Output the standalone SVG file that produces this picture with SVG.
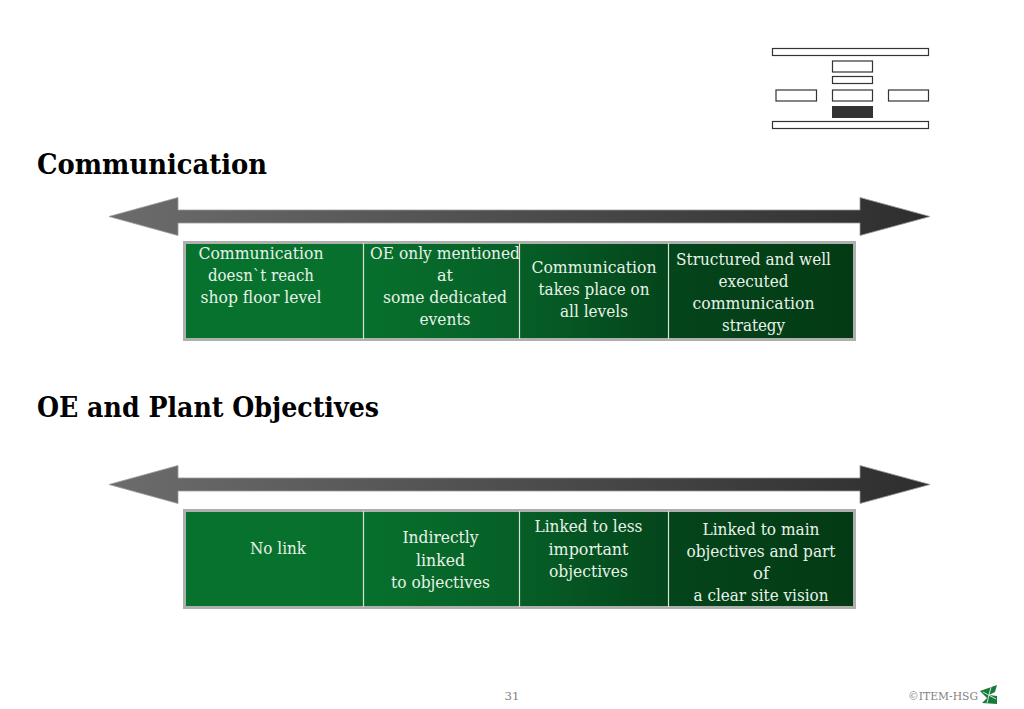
<svg xmlns="http://www.w3.org/2000/svg" width="1024" height="709" viewBox="0 0 1024 709">
<style>
text{font-family:"DejaVu Serif Condensed","Liberation Serif","Times New Roman",serif}
.h{font-size:27px;font-weight:bold;fill:#000}
.t{font-size:16.500px;fill:#e8f2e8;text-anchor:middle}
.o{fill:#fff;stroke:#333;stroke-width:1.200}
.bar{fill:url(#bg);stroke:#aeb0ae;stroke-width:3}
.div{stroke:#d5e2d5;stroke-width:1.200}
.f{font-size:11.500px;fill:#7f7f7f}
</style>
<defs>
<linearGradient id="bg" x1="0" y1="0" x2="1" y2="0">
<stop offset="0" stop-color="#07722e"/><stop offset="0.27" stop-color="#07702d"/><stop offset="0.5" stop-color="#065f27"/><stop offset="0.72" stop-color="#04451b"/><stop offset="1" stop-color="#033a14"/>
</linearGradient>
<linearGradient id="ar" x1="0" y1="0" x2="1" y2="0">
<stop offset="0" stop-color="#6c6c6c"/><stop offset="1" stop-color="#2e2e2e"/>
</linearGradient>
<path id="arrow" d="M109 216.500L178 197.500V210H860V197.500L930 216.500L860 235.500V223H178V235.500Z" fill="url(#ar)" stroke="#9a9a9a" stroke-width="0.800"/>
</defs>

<g id="org-chart">
<rect class="o" x="772.500" y="48.500" width="156" height="7"/>
<rect class="o" x="832.500" y="61" width="40" height="11"/>
<rect class="o" x="832.500" y="76.500" width="40" height="7"/>
<rect class="o" x="776" y="90" width="40.500" height="11"/>
<rect class="o" x="832.500" y="90" width="40" height="11"/>
<rect class="o" x="888.500" y="90" width="40" height="11"/>
<rect x="832" y="106" width="41" height="12" fill="#333"/>
<rect class="o" x="772.500" y="121.500" width="156" height="7"/>
</g>

<text class="h" x="37" y="174" textLength="230" lengthAdjust="spacingAndGlyphs">Communication</text>

<g id="connectors">
<use href="#arrow"/>
<use href="#arrow" y="268"/>
</g>

<g id="scale-communication">
<rect class="bar" x="184.500" y="242.500" width="670" height="97"/>
<path class="div" d="M363.500 243V339M519.500 243V339M668.500 243V339"/>
<text class="t" x="261" y="259" textLength="125" lengthAdjust="spacingAndGlyphs">Communication</text>
<text class="t" x="261" y="281" textLength="106" lengthAdjust="spacingAndGlyphs">doesn`t reach</text>
<text class="t" x="261" y="303" textLength="121" lengthAdjust="spacingAndGlyphs">shop floor level</text>
<text class="t" x="445" y="259" textLength="150" lengthAdjust="spacingAndGlyphs">OE only mentioned</text>
<text class="t" x="445" y="281" textLength="16" lengthAdjust="spacingAndGlyphs">at</text>
<text class="t" x="445" y="303" textLength="124" lengthAdjust="spacingAndGlyphs">some dedicated</text>
<text class="t" x="445" y="325" textLength="51" lengthAdjust="spacingAndGlyphs">events</text>
<text class="t" x="594" y="273" textLength="125" lengthAdjust="spacingAndGlyphs">Communication</text>
<text class="t" x="594" y="295" textLength="111" lengthAdjust="spacingAndGlyphs">takes place on</text>
<text class="t" x="594" y="317" textLength="68" lengthAdjust="spacingAndGlyphs">all levels</text>
<text class="t" x="753.500" y="265" textLength="155" lengthAdjust="spacingAndGlyphs">Structured and well</text>
<text class="t" x="753.500" y="287" textLength="70" lengthAdjust="spacingAndGlyphs">executed</text>
<text class="t" x="753.500" y="309" textLength="122" lengthAdjust="spacingAndGlyphs">communication</text>
<text class="t" x="753.500" y="331" textLength="63" lengthAdjust="spacingAndGlyphs">strategy</text>
</g>

<text class="h" x="37" y="417" textLength="342" lengthAdjust="spacingAndGlyphs">OE and Plant Objectives</text>

<g id="scale-objectives">
<rect class="bar" x="184.500" y="510.500" width="670" height="97"/>
<path class="div" d="M363.500 511V607M519.500 511V607M668.500 511V607"/>
<text class="t" x="278" y="554" textLength="56" lengthAdjust="spacingAndGlyphs">No link</text>
<text class="t" x="440.500" y="543" textLength="76" lengthAdjust="spacingAndGlyphs">Indirectly</text>
<text class="t" x="440.500" y="566" textLength="49" lengthAdjust="spacingAndGlyphs">linked</text>
<text class="t" x="440.500" y="588" textLength="99" lengthAdjust="spacingAndGlyphs">to objectives</text>
<text class="t" x="588.500" y="532" textLength="108" lengthAdjust="spacingAndGlyphs">Linked to less</text>
<text class="t" x="588.500" y="555" textLength="80" lengthAdjust="spacingAndGlyphs">important</text>
<text class="t" x="588.500" y="577" textLength="79" lengthAdjust="spacingAndGlyphs">objectives</text>
<text class="t" x="761" y="535" textLength="117" lengthAdjust="spacingAndGlyphs">Linked to main</text>
<text class="t" x="761" y="557" textLength="149" lengthAdjust="spacingAndGlyphs">objectives and part</text>
<text class="t" x="761" y="579" textLength="16" lengthAdjust="spacingAndGlyphs">of</text>
<text class="t" x="761" y="601" textLength="135" lengthAdjust="spacingAndGlyphs">a clear site vision</text>
</g>

<g id="footer">
<text class="f" x="512" y="700" text-anchor="middle" textLength="15" lengthAdjust="spacingAndGlyphs">31</text>
<text class="f" x="908" y="700" textLength="70" lengthAdjust="spacingAndGlyphs">©ITEM-HSG</text>
<path d="M980 691L997 685L995 692L989 695L997 696V704L982 703L987 698Z" fill="#1a7a3c"/>
<path d="M983 692L996 699M991 687L987 703" stroke="#fff" stroke-width="0.800" fill="none"/>
</g>
</svg>
